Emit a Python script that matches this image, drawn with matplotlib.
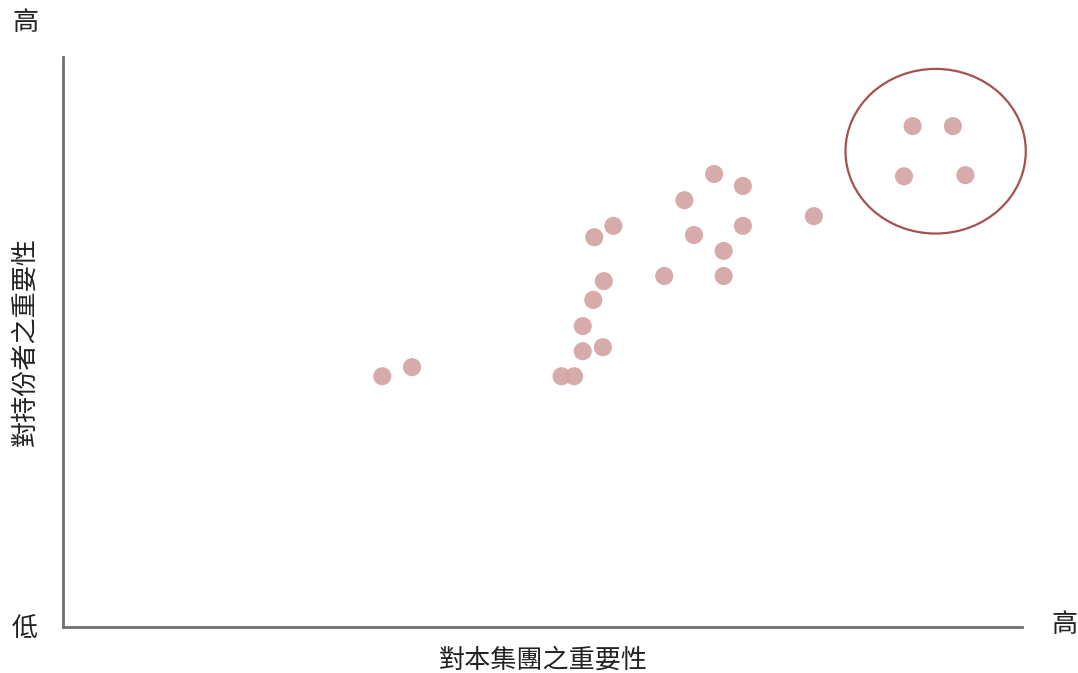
import matplotlib
matplotlib.use('Agg')
import matplotlib.pyplot as plt
from matplotlib.patches import Ellipse

plt.rcParams['font.family'] = ['Noto Sans CJK TC', 'DejaVu Sans']

# importance to the group (x) vs importance to stakeholders (y), 0-10 scale
x_vals = [3.33, 3.64, 5.20, 5.33, 5.42, 5.63, 5.42, 5.53, 5.64, 5.54, 5.74,
          6.27, 6.48, 6.58, 6.79, 6.89, 6.89, 7.09, 7.09, 7.83,
          8.86, 9.28, 8.77, 9.41]
y_vals = [4.40, 4.56, 4.40, 4.40, 4.84, 4.91, 5.28, 5.74, 6.07, 6.84, 7.04,
          6.16, 7.49, 6.88, 7.95, 6.60, 6.16, 7.74, 7.04, 7.21,
          8.79, 8.79, 7.91, 7.93]

x_label = '對本集團之重要性'
y_label = '對持份者之重要性'
high_label = '高'
low_label = '低'

fig = plt.figure(figsize=(10.78, 6.73), dpi=100)
ax = fig.add_axes([0.0584, 0.0684, 0.8896, 0.8466])

ax.scatter(x_vals, y_vals, s=170, color='#d4a7a5', edgecolors='none', alpha=0.95, zorder=3)

# highlight cluster of most material topics
ell = Ellipse((9.10, 8.35), 1.88, 2.89, fill=False, edgecolor='#a5524f',
              linewidth=1.6, zorder=2, clip_on=False)
ax.add_patch(ell)

ax.set_xlim(0, 10)
ax.set_ylim(0, 10)
ax.set_xticks([])
ax.set_yticks([])
for side in ['top', 'right']:
    ax.spines[side].set_visible(False)
for side in ['left', 'bottom']:
    ax.spines[side].set_color('#707070')
    ax.spines[side].set_linewidth(2)

fs = 18.8
fig.text(543 / 1078, 1 - 660 / 673, x_label, ha='center', va='center', fontsize=fs, color='#222222')
fig.text(25 / 1078, 1 - 341 / 673, y_label, ha='center', va='center', fontsize=fs, rotation=90, color='#222222')
fig.text(25 / 1078, 1 - 22 / 673, high_label, ha='center', va='center', fontsize=fs, color='#222222')
fig.text(25 / 1078, 1 - 628 / 673, low_label, ha='center', va='center', fontsize=fs, color='#222222')
fig.text(1064 / 1078, 1 - 625 / 673, high_label, ha='center', va='center', fontsize=fs, color='#222222')

fig.savefig('out.png', dpi=100)
